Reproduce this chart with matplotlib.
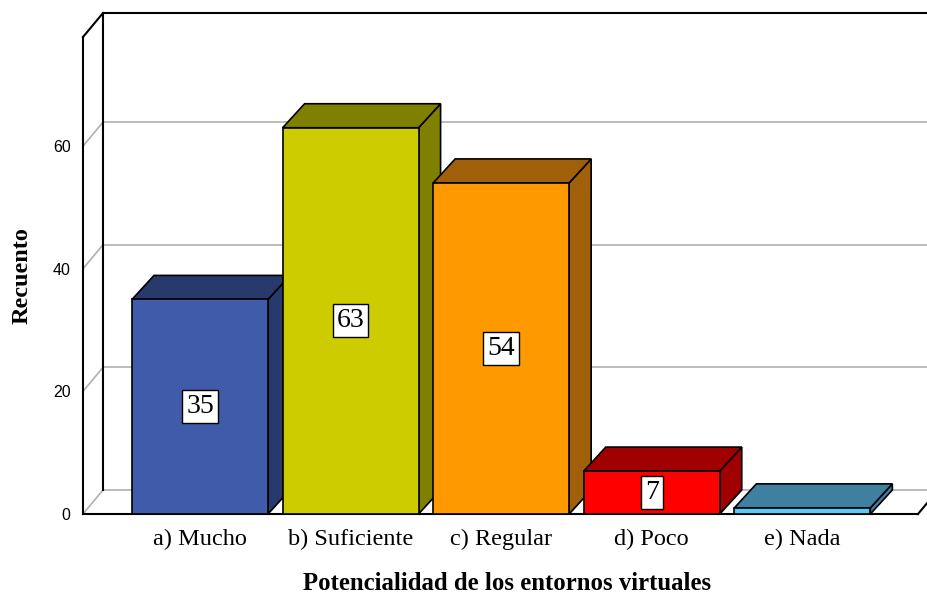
import matplotlib.pyplot as plt
from matplotlib.patches import Polygon

# datos
categorias = ['a) Mucho', 'b) Suficiente', 'c) Regular', 'd) Poco', 'e) Nada']
recuento = [35, 63, 54, 7, 1]
mostrar_etiqueta = [True, True, True, True, False]
color_frente = ['#3F5BA9', '#CCCC00', '#FF9900', '#FF0000', '#5BC8F5']
color_lado = ['#283A6B', '#808000', '#A0600A', '#A00000', '#3F7F9F']
yticks = [0, 20, 40, 60]

serif = 'Liberation Serif'
sans = 'Liberation Sans'

fig = plt.figure(figsize=(9.28, 5.96), dpi=100)
W, H = 928, 596
ax = fig.add_axes([83 / W, (H - 514) / H, (918 - 83) / W, (514 - 37) / H])

x0, x1 = -0.777, 4.768
ymax = 77.8
ax.set_xlim(x0, x1)
ax.set_ylim(0, ymax)
for s in ax.spines.values():
    s.set_visible(False)

# profundidad (en unidades de datos)
dx = 20 / 150.6
dy = 24 / 6.13
bdx = 22 / 150.6
ancho = 0.903

# paredes y cuadricula
gris = '#B0B0B0'
for v in yticks:
    ax.plot([x0, x0 + dx], [v, v + dy], color=gris, lw=1.2, clip_on=False, zorder=1)
    ax.plot([x0 + dx, x1 + 0.3], [v + dy, v + dy], color=gris, lw=1.2, clip_on=False, zorder=1)
ax.plot([x0, x0], [0, ymax], color='black', lw=1.5, clip_on=False, zorder=2)
ax.plot([x0 + dx, x0 + dx], [dy, ymax + dy], color='black', lw=1.5, clip_on=False, zorder=2)
ax.plot([x0, x0 + dx], [ymax, ymax + dy], color='black', lw=1.5, clip_on=False, zorder=2)
ax.plot([x0 + dx, x1 + 0.3], [ymax + dy, ymax + dy], color='black', lw=1.5, clip_on=False, zorder=2)
ax.plot([x0, x1], [0, 0], color='black', lw=1.5, clip_on=False, zorder=2)
ax.plot([x1, x1 + dx], [0, dy], color='black', lw=1.5, clip_on=False, zorder=2)

# barras 3D
for i, (v, cf, cl) in enumerate(zip(recuento, color_frente, color_lado)):
    l, r = i - ancho / 2, i + ancho / 2
    z = 3 + i * 3
    lado = Polygon([(r, 0), (r + bdx, dy), (r + bdx, v + dy), (r, v)], closed=True,
                   facecolor=cl, edgecolor='black', lw=1.2, zorder=z, clip_on=False)
    tapa = Polygon([(l, v), (l + bdx, v + dy), (r + bdx, v + dy), (r, v)], closed=True,
                   facecolor=cl, edgecolor='black', lw=1.2, zorder=z, clip_on=False)
    ax.add_patch(lado)
    ax.add_patch(tapa)
    ax.bar(i, v, width=ancho, color=cf, edgecolor='black', lw=1.2, zorder=z + 1)
    if mostrar_etiqueta[i]:
        ax.text(i, v / 2, str(v), ha='center', va='center', fontsize=20, family=serif,
                zorder=z + 2,
                bbox=dict(boxstyle='square,pad=0.14', fc='white', ec='black', lw=1))

ax.set_xticks(range(len(categorias)))
ax.set_xticklabels(categorias, fontsize=17.5, family=serif, va='baseline')
ax.set_yticks(yticks)
ax.set_yticklabels([str(t) for t in yticks], fontsize=11.5, family=sans)
ax.tick_params(axis='both', length=0)
ax.tick_params(axis='y', pad=9)
ax.tick_params(axis='x', pad=22)

ax.set_ylabel('Recuento', fontsize=17.5, family=serif, fontweight='bold', va='center')
ax.yaxis.set_label_coords((22 - 83) / 835, (514 - 276) / 477)
ax.set_xlabel('Potencialidad de los entornos virtuales', fontsize=17.8, family=serif,
              fontweight='bold', va='center')
ax.xaxis.set_label_coords((507 - 83) / 835, (514 - 583) / 477)

fig.savefig('out.png', dpi=100)
